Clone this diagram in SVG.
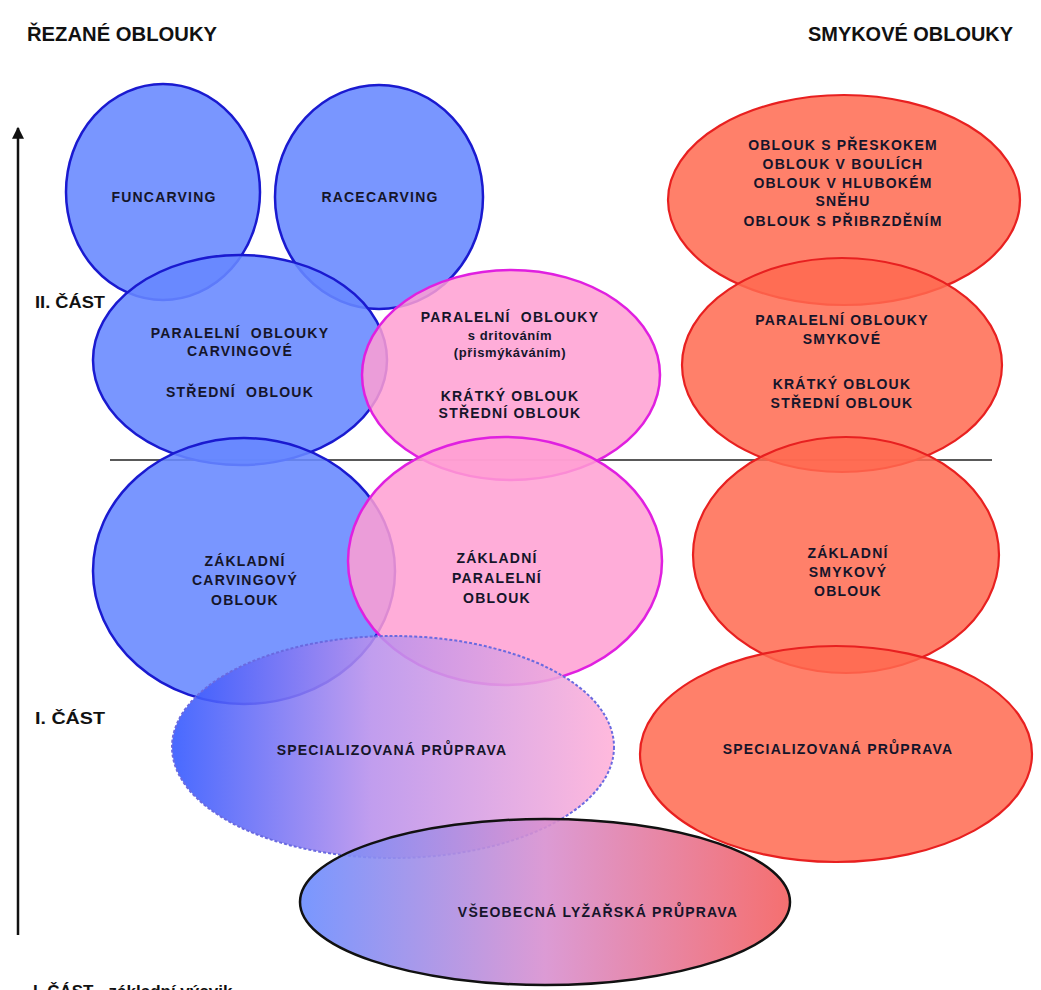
<svg xmlns="http://www.w3.org/2000/svg" width="1041" height="990" viewBox="0 0 1041 990">
<defs>
<style>
.t{font-family:"Liberation Sans",Arial,sans-serif;font-weight:bold;fill:#15152a;text-anchor:middle;font-size:14px;letter-spacing:1.2px}
.s{font-size:13px;letter-spacing:0.6px}
.h{font-family:"Liberation Sans",Arial,sans-serif;font-weight:bold;fill:#111;font-size:17px}
.ti{font-family:"Liberation Sans",Arial,sans-serif;font-weight:bold;fill:#111;font-size:20px}
.blue{fill:#6688ff;fill-opacity:0.88;stroke:#1a1ad0;stroke-width:2.5}
.pink{fill:#ff9fd2;fill-opacity:0.85;stroke:#e020e0;stroke-width:2.5}
.red{fill:#ff6a50;fill-opacity:0.85;stroke:#e82020;stroke-width:2.2}
</style>
<linearGradient id="gSpec" x1="0" y1="0" x2="1" y2="0">
<stop offset="0" stop-color="#2f55ff"/>
<stop offset="0.45" stop-color="#b890ec"/>
<stop offset="1" stop-color="#ffb0d8"/>
</linearGradient>
<linearGradient id="gVse" x1="0" y1="0" x2="1" y2="0">
<stop offset="0" stop-color="#6a8cff"/>
<stop offset="0.5" stop-color="#d890d0"/>
<stop offset="1" stop-color="#f46060"/>
</linearGradient>
<marker id="arr" viewBox="0 0 10 10" refX="9" refY="5" markerWidth="14" markerHeight="12" markerUnits="userSpaceOnUse" orient="auto">
<path d="M0,0 L10,5 L0,10 Z" fill="#111"/>
</marker>
</defs>
<rect width="1041" height="990" fill="#fff"/>

<g id="connectors">
<line x1="18" y1="935" x2="18" y2="128" stroke="#111" stroke-width="2.5" marker-end="url(#arr)"/>
<line x1="110" y1="460" x2="992" y2="460" stroke="#222" stroke-width="1.5"/>
</g>

<g id="labels">
<text class="ti" x="27" y="41" textLength="190" lengthAdjust="spacingAndGlyphs">ŘEZANÉ OBLOUKY</text>
<text class="ti" x="808" y="41" textLength="205" lengthAdjust="spacingAndGlyphs">SMYKOVÉ OBLOUKY</text>
<text class="h" x="35" y="308" textLength="70" lengthAdjust="spacingAndGlyphs">II. ČÁST</text>
<text class="h" x="35" y="724" textLength="70" lengthAdjust="spacingAndGlyphs">I. ČÁST</text>
<text class="h" x="33" y="997">I. ČÁST - základní výcvik</text>
</g>

<g id="funcarving">
<ellipse class="blue" cx="163" cy="192" rx="97" ry="108"/>
<text class="t" x="164" y="202">FUNCARVING</text>
</g>
<g id="racecarving">
<ellipse class="blue" cx="379" cy="197" rx="104" ry="112"/>
<text class="t" x="380" y="202">RACECARVING</text>
</g>
<g id="red-top">
<ellipse class="red" cx="844" cy="200" rx="176" ry="105"/>
<text class="t" x="843" y="150">OBLOUK S PŘESKOKEM</text>
<text class="t" x="843" y="169">OBLOUK V BOULÍCH</text>
<text class="t" x="843" y="188">OBLOUK V HLUBOKÉM</text>
<text class="t" x="843" y="206">SNĚHU</text>
<text class="t" x="843" y="226">OBLOUK S PŘIBRZDĚNÍM</text>
</g>
<g id="blue-carving-par">
<ellipse class="blue" cx="240" cy="360" rx="147" ry="105"/>
<text class="t" x="240" y="338">PARALELNÍ&#160; OBLOUKY</text>
<text class="t" x="240" y="356">CARVINGOVÉ</text>
<text class="t" x="240" y="397">STŘEDNÍ&#160; OBLOUK</text>
</g>
<g id="pink-par">
<ellipse class="pink" cx="511" cy="375" rx="149" ry="105"/>
<text class="t" x="510" y="322">PARALELNÍ&#160; OBLOUKY</text>
<text class="t s" x="510" y="340">s dritováním</text>
<text class="t s" x="510" y="357">(přismýkáváním)</text>
<text class="t" x="510" y="401">KRÁTKÝ OBLOUK</text>
<text class="t" x="510" y="418">STŘEDNÍ OBLOUK</text>
</g>
<g id="red-par">
<ellipse class="red" cx="842" cy="365" rx="160" ry="107"/>
<text class="t" x="842" y="325">PARALELNÍ OBLOUKY</text>
<text class="t" x="842" y="344">SMYKOVÉ</text>
<text class="t" x="842" y="389">KRÁTKÝ OBLOUK</text>
<text class="t" x="842" y="408">STŘEDNÍ OBLOUK</text>
</g>
<g id="blue-zakl">
<ellipse class="blue" cx="244" cy="571" rx="151" ry="133"/>
<text class="t" x="245" y="566">ZÁKLADNÍ</text>
<text class="t" x="245" y="585">CARVINGOVÝ</text>
<text class="t" x="245" y="605">OBLOUK</text>
</g>
<g id="pink-zakl">
<ellipse class="pink" cx="505" cy="561" rx="157" ry="124"/>
<text class="t" x="497" y="563">ZÁKLADNÍ</text>
<text class="t" x="497" y="583">PARALELNÍ</text>
<text class="t" x="497" y="603">OBLOUK</text>
</g>
<g id="red-zakl">
<ellipse class="red" cx="846" cy="555" rx="153" ry="118"/>
<text class="t" x="848" y="558">ZÁKLADNÍ</text>
<text class="t" x="848" y="577">SMYKOVÝ</text>
<text class="t" x="848" y="596">OBLOUK</text>
</g>
<g id="spec-rez">
<ellipse cx="393" cy="747" rx="221" ry="111" fill="url(#gSpec)" fill-opacity="0.88" stroke="#6a6ae0" stroke-width="2" stroke-dasharray="3 2"/>
<text class="t" x="392" y="755">SPECIALIZOVANÁ PRŮPRAVA</text>
</g>
<g id="vseobecna">
<ellipse cx="545" cy="902" rx="245" ry="83" fill="url(#gVse)" fill-opacity="0.9" stroke="#111" stroke-width="2.5"/>
<text class="t" x="598" y="917">VŠEOBECNÁ LYŽAŘSKÁ PRŮPRAVA</text>
</g>
<g id="spec-smyk">
<ellipse class="red" cx="836" cy="754" rx="196" ry="108"/>
<text class="t" x="838" y="754">SPECIALIZOVANÁ PRŮPRAVA</text>
</g>
</svg>
